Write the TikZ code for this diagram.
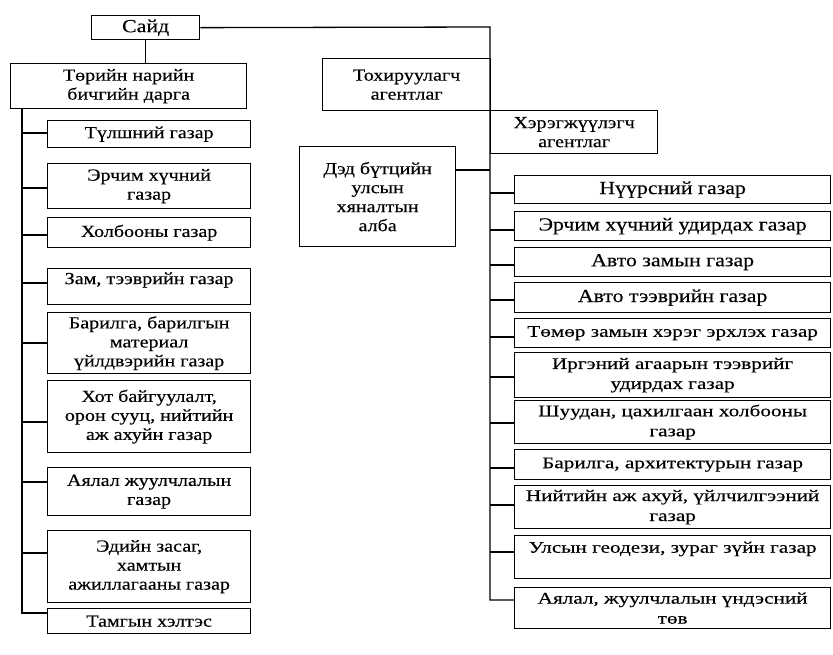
\documentclass[tikz,border=0pt]{standalone}
\usepackage{fontspec}
\setmainfont[FakeStretch=1.18, FakeBold=0.3]{Liberation Serif}
\newfontfamily\widefont[FakeStretch=1.3, FakeBold=0.3]{Liberation Serif}
\begin{document}
\begin{tikzpicture}[x=1pt,y=-1pt,
  box/.style={draw, line width=1.3pt, align=center, inner sep=1pt, font=\fontsize{17}{19}\selectfont},
  rbig/.style={box, font=\fontsize{18.5}{20}\selectfont},
  rsmall/.style={box, font=\widefont\fontsize{16.3}{20}\selectfont},
  conn/.style={line width=1.3pt}]
\useasboundingbox (0,0) rectangle (833,654);
\newcommand\bx[7]{\node[#6, minimum width={#4pt-#2pt}, minimum height={#5pt-#3pt}, anchor=north west] (#1) at (#2,#3) {#7};}
% top
\bx{said}{91}{15}{199}{39}{box, font=\fontsize{18.5}{20}\selectfont}{Сайд}
\bx{tnbd}{10}{63}{246}{108}{box}{Төрийн нарийн\\бичгийн дарга}
% left column
\bx{l1}{47}{120}{250}{147}{box}{Түлшний газар}
\bx{l2}{47}{163}{250}{208}{box}{Эрчим хүчний\\газар}
\bx{l3}{47}{217}{250}{247}{box}{Холбооны газар}
\bx{l4}{47}{268}{250}{304}{box}{Зам, тээврийн газар\\[-8pt]\strut}
\bx{l5}{47}{312}{250}{373}{box}{Барилга, барилгын\\материал\\үйлдвэрийн газар}
\bx{l6}{47}{380}{250}{452}{box}{Хот байгуулалт,\\орон сууц, нийтийн\\аж ахуйн газар}
\bx{l7}{47}{467}{250}{515}{box}{Аялал жуулчлалын\\газар}
\bx{l8}{47}{530}{250}{602}{box}{Эдийн засаг,\\хамтын\\ажиллагааны газар}
\bx{l9}{47}{608}{250}{633}{box}{Тамгын хэлтэс}
% middle
\bx{tox}{322}{58}{490}{110}{box}{Тохируулагч\\агентлаг}
\bx{her}{490}{110}{657}{153}{box}{Хэрэгжүүлэгч\\агентлаг}
\bx{ded}{299}{146}{455}{246}{box}{Дэд бүтцийн\\улсын\\хяналтын\\алба}
% right column
\bx{r1}{514}{175}{830}{203}{rbig}{Нүүрсний газар}
\bx{r2}{514}{211}{830}{240}{rbig}{Эрчим хүчний удирдах газар}
\bx{r3}{514}{247}{830}{276}{rbig}{Авто замын газар}
\bx{r4}{514}{282}{830}{312}{rbig}{Авто тээврийн газар}
\bx{r5}{514}{318}{830}{347}{rsmall}{Төмөр замын хэрэг эрхлэх газар}
\bx{r6}{514}{352}{830}{397}{rsmall}{Иргэний агаарын тээврийг\\удирдах газар}
\bx{r7}{514}{400}{830}{443}{rsmall}{Шуудан, цахилгаан холбооны\\газар}
\bx{r8}{514}{449}{830}{479}{rsmall}{Барилга, архитектурын газар}
\bx{r9}{514}{485}{830}{528}{rsmall}{Нийтийн аж ахуй, үйлчилгээний\\газар}
\bx{r10}{514}{535}{830}{578}{rsmall}{Улсын геодези, зураг зүйн газар\\[-6pt]\strut}
\bx{r11}{514}{587}{830}{628}{rsmall}{Аялал, жуулчлалын үндэсний\\төв}
% coordinates
\coordinate (ltop) at (22,108);
\coordinate (lbot) at (22,613);
\coordinate (rtop) at (490,27);
\coordinate (rbot) at (490,600);
% left connectors
\draw[conn] (said.south) -- (said.south |- tnbd.north);
\draw[conn] (ltop) -- (lbot) -- (lbot -| l9.west);
\foreach \n/\yy in {l1/133,l2/188,l3/235,l4/283,l5/343,l6/422,l7/482,l8/553}{
  \draw[conn] (ltop |- 0,\yy) -- (\n.west |- 0,\yy);
}
% right connectors
\draw[conn] (said.east) -- (rtop) -- (rbot) -- (rbot -| r11.west);
\draw[conn] (ded.east |- 0,170) -- (rtop |- 0,170);
\foreach \n/\yy in {r1/193,r2/230,r3/265,r4/300,r5/337,r6/377,r7/423,r8/468,r9/505,r10/552}{
  \draw[conn] (rtop |- 0,\yy) -- (\n.west |- 0,\yy);
}
\end{tikzpicture}
\end{document}
